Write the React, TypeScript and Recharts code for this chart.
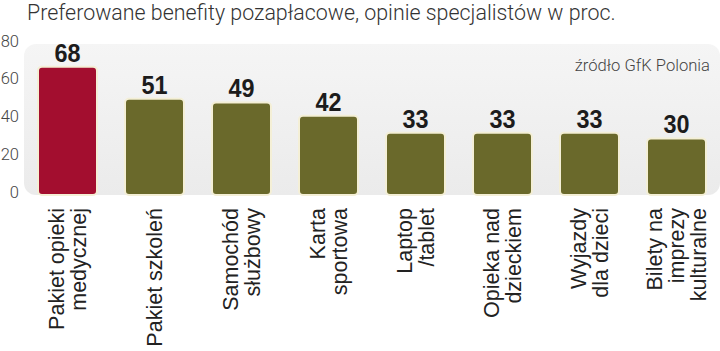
import React from 'react';
import { BarChart, Bar, XAxis, YAxis, CartesianGrid, Cell, LabelList, ReferenceArea, Rectangle } from 'recharts';

const titleText = 'Preferowane benefity pozapłacowe, opinie specjalistów w proc.';
const sourceText = 'źródło GfK Polonia';
const categories = [
  'Pakiet opieki\nmedycznej',
  'Pakiet szkoleń',
  'Samochód\nsłużbowy',
  'Karta\nsportowa',
  'Laptop\n/tablet',
  'Opieka nad\ndzieckiem',
  'Wyjazdy\ndla dzieci',
  'Bilety na\nimprezy\nkulturalne',
];
const values = [68, 51, 49, 42, 33, 33, 33, 30];
const highlighted = [true, false, false, false, false, false, false, false];
const yTicks = [0, 20, 40, 60, 80];

const data = categories.map((name, i) => ({ name, value: values[i], hi: highlighted[i] }));

const RED = '#a30e2f';
const OLIVE = '#6a692b';

const XTick = (props: any) => {
  const { x, y, payload } = props;
  const lines = String(payload.value).split('\n');
  const lh = 22;
  const n = lines.length;
  return (
    <g transform={`translate(${x},${y}) rotate(-90)`}>
      <text textAnchor="end" fontFamily="'Liberation Sans', Arial, sans-serif" fontSize={21.5} fill="#222">
        {lines.map((l, i) => (
          <tspan key={i} x={0} y={(i - (n - 1) / 2) * lh + 7}>
            {l}
          </tspan>
        ))}
      </text>
    </g>
  );
};

const YTick = (props: any) => {
  const { x, y, payload } = props;
  return (
    <text x={x} y={y + 2.5} textAnchor="end" fontFamily="Roboto, sans-serif" fontWeight={300} fontSize={16.5} fill="#444">
      {payload.value}
    </text>
  );
};

const ValueLabel = (props: any) => {
  const { x, y, width, value } = props;
  const cx = x + width / 2;
  return (
    <text
      x={cx}
      y={y - 5}
      textAnchor="middle"
      fill="#1c1c1c"
      fontSize={26}
      fontWeight="bold"
      fontFamily="'Liberation Sans', Arial, sans-serif"
      transform={`translate(${cx * 0.1},0) scale(0.9,1)`}
    >
      {value}
    </text>
  );
};

export default function App() {
  return (
    <div style={{ position: 'absolute', left: 0, top: 0, width: 720, height: 351, background: '#fff' }}>
      <BarChart width={720} height={351} data={data} margin={{ top: 44, right: 0, bottom: 0, left: 0 }}>
        <defs>
          <linearGradient id="panelGrad" x1="0" y1="0" x2="0" y2="1">
            <stop offset="0%" stopColor="#f5f5f5" />
            <stop offset="100%" stopColor="#ebebeb" />
          </linearGradient>
        </defs>
        <ReferenceArea
          y1={0}
          y2={80}
          fill="url(#panelGrad)"
          fillOpacity={1}
          stroke="none"
          shape={(p: any) => <Rectangle {...p} radius={12} />}
        />
        <CartesianGrid vertical={false} horizontalValues={[20, 40, 60]} stroke="#d6d6d6" strokeWidth={1} />
        <XAxis
          dataKey="name"
          interval={0}
          axisLine={false}
          tickLine={false}
          tickSize={0}
          tickMargin={13}
          height={156}
          tick={<XTick />}
        />
        <YAxis
          domain={[0, 80]}
          ticks={yTicks}
          width={24}
          axisLine={false}
          tickLine={false}
          tickSize={0}
          tickMargin={5}
          tick={<YTick />}
        />
        <Bar dataKey="value" barSize={59} stroke="#f4efd6" strokeWidth={2} radius={4} isAnimationActive={false}>
          {data.map((d, i) => (
            <Cell key={i} fill={d.hi ? RED : OLIVE} />
          ))}
          <LabelList dataKey="value" content={<ValueLabel />} />
        </Bar>
      </BarChart>
      <svg width={720} height={351} style={{ position: 'absolute', left: 0, top: 0, pointerEvents: 'none' }}>
        <text x={27} y={20} fontFamily="Roboto, sans-serif" fontWeight={300} fontSize={21.4} fill="#333">
          {titleText}
        </text>
        <text x={710} y={71} textAnchor="end" fontFamily="Roboto, sans-serif" fontWeight={300} fontSize={16.6} fill="#444">
          {sourceText}
        </text>
      </svg>
    </div>
  );
}
